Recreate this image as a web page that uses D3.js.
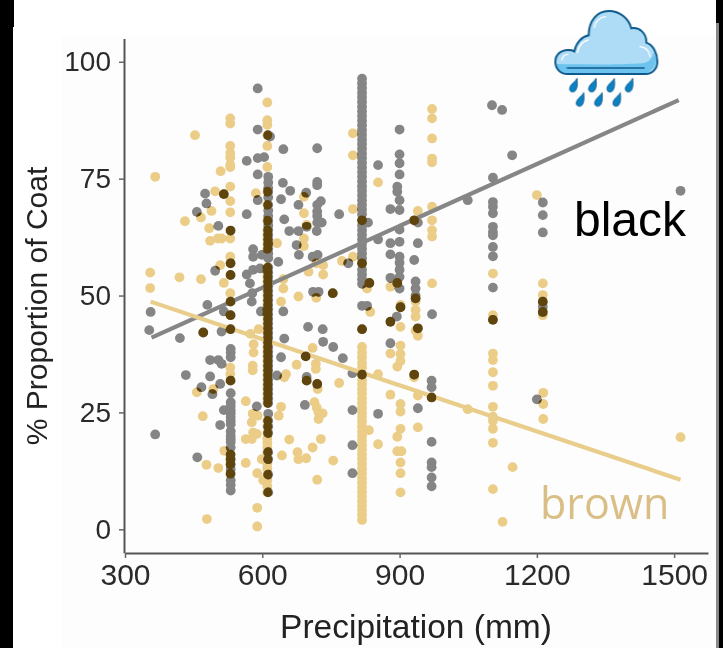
<!DOCTYPE html>
<html>
<head>
<meta charset="utf-8">
<script src="https://d3js.org/d3.v7.min.js"></script>
<style>
  html, body { margin: 0; padding: 0; background: #fff; }
  text { font-family: "Liberation Sans", Arial, sans-serif; }
</style>
</head>
<body>
<div id="chart"></div>
<script>
var xTicks = [300, 600, 900, 1200, 1500];
var yTicks = [0, 25, 50, 75, 100];

// regression lines, [precipitation, % coat]
var blackLine = [[358, 41], [1510, 91.8]];
var brownLine = [[356, 48.7], [1514, 10.6]];

// the three crowded columns, read top to bottom
var black530 = [63.9, 56.9, 54.4, 48.7, 45.8, 42.8, 38.6, 37.8, 36.8, 31.8, 29.1, 27.2, 26.4, 25.5, 24.8, 24, 23.2, 22.5, 21, 20, 19.3, 18.7, 17.5, 16, 15, 13.9, 12.9, 11.9, 10.5, 9.5, 8.3];
var brown530 = [87.9, 86.8, 82, 80.5, 79.5, 78, 77.5, 73.3, 70.2, 67.8, 63.9, 62.2, 58.3, 56.9, 54.4, 50.5, 48.7, 45.8, 42.8, 34.6, 33.2, 31.8, 16, 15, 13.9, 11.9];
var black612 = [84.3, 75.4, 74.2, 73, 72.2, 71, 69.4, 68.2, 67, 66, 65, 64, 63, 62, 61, 60, 59, 58, 56, 55, 54, 53, 52, 51, 50, 49, 48, 47, 46, 45, 44, 43, 42, 41, 40, 39, 38, 37, 36, 35, 34, 33, 32, 31, 30, 29, 28, 27, 24.7, 23.2, 22, 20.6, 16.5, 15, 11.7, 7.9];
var brown612 = [91.3, 87.5, 86.5, 84.3, 82, 77.5, 72.2, 69.4, 66, 64, 63, 62, 61, 60, 56, 55, 54, 53, 52, 51, 50, 49, 48, 47, 46, 45, 44, 43, 42, 41, 40, 39, 38, 37, 36, 35, 34, 33, 32, 31, 30, 29, 28, 27, 23.2, 22, 20.6, 19.5, 18.5, 17.5, 16.5, 15, 14, 13, 11.7, 10.5, 9.2, 7.9];
var black820 = [96.4, 95.4, 94.4, 93.4, 92.4, 91.4, 90.4, 89.4, 88.4, 87.4, 86.4, 85.4, 84.4, 83.4, 82.4, 81.4, 80.4, 79.4, 78.4, 77.4, 76.4, 75.4, 74.4, 73.4, 72.4, 71.4, 70.4, 69.4, 68.4, 67.4, 66.1, 65, 64, 63, 62, 61, 60, 59, 58, 56.9, 55.5, 54.5, 53.5, 52.5, 47.8, 42.8, 33.1];
var brown820 = [66.1, 56.9, 42.8, 39, 37.8, 36.8, 35.6, 34.6, 33.1, 32, 31, 30, 29, 28, 27, 26, 25, 24, 23, 22, 21, 20, 19, 18, 17, 16, 15, 14, 13, 12, 11, 10, 9, 8, 7, 6, 5, 4, 3, 2];

var blackPoints = [
  [590, 94.3], [590, 85.5], [617, 84], [646, 81.3], [720, 81.5], [566, 78.8], [590, 79.4], [604, 79.6],
  [590, 75.9], [645, 74.1], [661, 72.4], [720, 74.3], [720, 73.6], [696, 72], [475, 71.8], [516, 71.7],
  [478, 69.7], [590, 70.4], [641, 70.6], [728, 70.2], [679, 69.4], [720, 69.4], [720, 68], [720, 67],
  [720, 65.6], [457, 67.9], [566, 67.4], [768, 67.4], [648, 66.3], [504, 64.9], [659, 63.8], [679, 63.8],
  [697, 64.7], [719, 63.8], [730, 65.6], [675, 60.8], [680, 58.7], [580, 59.9], [580, 58.3], [599, 58.7],
  [635, 57.2], [710, 58.3], [721, 58.7], [788, 56.9], [497, 55.3], [566, 54.5], [580, 55.5], [595, 55.8],
  [573, 52.6], [578, 50.5], [577, 48.7], [711, 50.8], [723, 50.8], [754, 50.5], [480, 48], [356, 46.5],
  [516, 46.6], [597, 46.6], [646, 46.6], [353, 42.6], [420, 40.9], [471, 42.1], [511, 42.3], [700, 43.3],
  [732, 42.8], [648, 40.8], [733, 40.1], [755, 39], [486, 36.2], [504, 36.2], [511, 35.4], [641, 36.8],
  [695, 37], [776, 36.6], [797, 33.4], [433, 33], [486, 32.7], [508, 31.1], [467, 30.4], [491, 28.9],
  [632, 32.9], [697, 32.6], [697, 31.8], [720, 31.1], [588, 26.3], [693, 26.6], [797, 25.5], [516, 25.5],
  [508, 22.3], [366, 20.3], [458, 15.4], [797, 18], [797, 12],
  [853, 77.9], [900, 85.5], [900, 80.2], [900, 78.3], [900, 75.9], [895, 73.3], [895, 72.2], [900, 70.4],
  [900, 68.3], [880, 68.5], [900, 64.1], [831, 65.6], [853, 62], [880, 61.2], [900, 61.5], [940, 65.6],
  [932, 66.1], [940, 61.2], [880, 58.8], [900, 58.3], [900, 57], [900, 55.5], [900, 54], [932, 57.6],
  [880, 53.8], [895, 52.7], [900, 51.5], [834, 52.7], [935, 53], [935, 51.5], [935, 50], [935, 49.4],
  [829, 47.8], [971, 46], [902, 47.5], [894, 45.5], [880, 44.4], [1104, 75.2], [1102, 90.7], [1124, 89.7],
  [1146, 80], [1049, 70.4], [1104, 70], [1104, 69], [1104, 67.6], [1104, 64.7], [1104, 63.6], [1104, 62.9],
  [1104, 60.4], [1104, 58.4], [1104, 51.7], [1104, 44.8], [1213, 69.9], [1213, 67.2], [1213, 63.5],
  [1213, 48.7], [1213, 47.6], [1213, 46.5], [1514, 72.4], [880, 39.8], [940, 43], [932, 33.1], [970, 31.8],
  [970, 30.4], [970, 28.2], [853, 24.7], [940, 25.9], [970, 18.7], [970, 14.3], [970, 13.3], [970, 11.1],
  [970, 9.2], [1200, 27.8]
];

var brownPoints = [
  [366, 75.4], [453, 84.3], [509, 76.6], [497, 72.3], [516, 71.7], [586, 71.9], [489, 68.1], [466, 66.7],
  [431, 65.9], [691, 71.1], [691, 67.6], [697, 65.1], [484, 64.4], [486, 61.7], [503, 62.2], [511, 62.2],
  [632, 61.2], [691, 62.2], [691, 60.6], [798, 84.7], [798, 80], [798, 68.5], [508, 56.5], [355, 54.9],
  [355, 51.6], [419, 53.9], [466, 53.5], [516, 52.7], [646, 53.5], [646, 51.5], [701, 55.1], [733, 56.5],
  [733, 54.5], [718, 56.9], [774, 57.4], [798, 58.3], [679, 49.8], [718, 49.5], [641, 48.7], [754, 50.5],
  [471, 42.1], [574, 41.8], [592, 42.8], [581, 39.6], [581, 37.8], [579, 35], [579, 34], [710, 38.8],
  [695, 37], [675, 35.2], [652, 33.2], [648, 32.5], [717, 35.4], [717, 34.3], [768, 31.3], [457, 29.3],
  [493, 30], [564, 27.4], [721, 30], [720, 31.1], [714, 27.2], [719, 26], [723, 25], [732, 24.8], [723, 23.6],
  [641, 26.2], [636, 24.3], [470, 24.2], [579, 24.7], [590, 24.3], [577, 22.9], [564, 19.3], [577, 19.3],
  [588, 20.4], [580, 20.7], [659, 19.2], [728, 19.3], [710, 17.5], [643, 15.8], [677, 16.5], [679, 15],
  [696, 15.2], [755, 14.7], [478, 13.8], [504, 13.1], [564, 14.2], [517, 16.8], [599, 15], [589, 12],
  [602, 10.5], [720, 10.6], [589, 4.6], [479, 2.2], [589, 0.6], [697, 31.8],
  [971, 89.9], [971, 87.9], [971, 83.6], [971, 79.3], [971, 78.5], [853, 74.2], [971, 69], [940, 68.1],
  [971, 66.1], [971, 64], [971, 62.6], [1200, 71.5], [1104, 54.7], [880, 51.9], [829, 51.5], [971, 52.6],
  [1213, 52.6], [1213, 50.1], [1213, 48.7], [1213, 46.5], [1213, 45.8], [902, 48], [902, 47.5], [935, 49.4],
  [935, 48.7], [935, 46.9], [935, 45.5], [1104, 45.8], [1104, 44.8], [836, 46.5], [834, 52.7], [895, 52.7],
  [932, 66.1], [880, 44.4], [902, 43.3], [902, 39.3], [902, 37.5], [880, 37.6], [902, 36], [895, 34.8],
  [940, 43], [940, 41.4], [935, 42.5], [853, 33.2], [932, 33.1], [932, 32.5], [880, 28.8], [940, 28.6],
  [970, 28.2], [902, 26.8], [902, 25.2], [902, 21.5], [895, 19.8], [833, 21.2], [940, 21.8], [853, 18.2],
  [895, 16.7], [904, 16.7], [902, 14.3], [902, 12], [902, 7.9], [1049, 25.7], [1104, 37.6], [1104, 36.2],
  [1104, 33.6], [1104, 30.7], [1104, 26.2], [1104, 24.1], [1104, 23.2], [1104, 21.5], [1104, 18.5],
  [1104, 8.6], [1125, 1.6], [1147, 13.3], [1214, 29.2], [1214, 26.8], [1214, 23.6], [1514, 19.7]
];

function column(x, values) {
  return values.map(function(v) { return [x, v]; });
}
var blackAll = blackPoints.concat(column(531, black530), column(613, black612), column(818, black820));
var brownAll = brownPoints.concat(column(530, brown530), column(611, brown612), column(818, brown820));

var width = 723, height = 648;

var svg = d3.select("#chart")
  .append("svg")
    .attr("width", width)
    .attr("height", height)
    .style("display", "block");

var defs = svg.append("defs");
defs.append("filter")
    .attr("id", "soft")
    .attr("x", "-5%").attr("y", "-5%").attr("width", "110%").attr("height", "110%")
  .append("feGaussianBlur")
    .attr("stdDeviation", 0.7);

var x = d3.scaleLinear().domain([300, 1574]).range([125, 708]);
var y = d3.scaleLinear().domain([-5, 105]).range([552.7, 38.4]);

// page background and the dark slide edges
svg.append("rect").attr("x", 61).attr("y", 36).attr("width", 655).attr("height", 612).attr("fill", "#fdfdfd");
svg.append("rect").attr("x", 0).attr("y", 0).attr("width", 13).attr("height", 648).attr("fill", "#000");
svg.append("rect").attr("x", 0).attr("y", 0).attr("width", 14).attr("height", 27).attr("fill", "#000");
svg.append("rect").attr("x", 716).attr("y", 0).attr("width", 7).attr("height", 648).attr("fill", "#000");
svg.append("rect").attr("x", 716).attr("y", 23).attr("width", 3).attr("height", 625).attr("fill", "#888");

var plot = svg.append("g").attr("filter", "url(#soft)");

function dots(parent, data, fill) {
  return parent
    .selectAll("circle")
    .data(data)
    .join("circle")
      .attr("cx", function(d) { return x(d[0]); })
      .attr("cy", function(d) { return y(d[1]); })
      .attr("r", 4.9)
      .attr("fill", fill);
}

dots(plot.append("g"), brownAll, "#ebcd88");
dots(plot.append("g"), blackAll, "#858585");

var line = d3.line()
  .x(function(d) { return x(d[0]); })
  .y(function(d) { return y(d[1]); });

plot.append("path").datum(blackLine)
    .attr("fill", "none").attr("stroke", "#868686").attr("stroke-width", 4.2).attr("d", line);
plot.append("path").datum(brownLine)
    .attr("fill", "none").attr("stroke", "#e9cd8b").attr("stroke-width", 4.2).attr("d", line);

// where brown and black dots overlap the original goes dark brown
var clip = defs.append("clipPath").attr("id", "overBlack");
dots(clip, blackAll, "#000");
dots(plot.append("g").attr("clip-path", "url(#overBlack)"), brownAll, "#5e4508");

// axes
var xAxis = plot.append("g")
    .attr("transform", "translate(0,553)")
    .call(d3.axisBottom(x).tickValues(xTicks).tickFormat(d3.format("d")).tickSize(5).tickSizeOuter(0).tickPadding(6));
var yAxis = plot.append("g")
    .attr("transform", "translate(124,0)")
    .call(d3.axisLeft(y).tickValues(yTicks).tickFormat(d3.format("d")).tickSize(5).tickSizeOuter(0).tickPadding(8));

[xAxis, yAxis].forEach(function(a) {
  a.select(".domain").attr("stroke", "#555").attr("stroke-width", 2);
  a.selectAll(".tick line").attr("stroke", "#666").attr("stroke-width", 1.5);
  a.selectAll(".tick text")
    .attr("fill", "#2b2b2b")
    .style("font-family", "'Liberation Sans', Arial, sans-serif");
});
xAxis.selectAll(".tick text").style("font-size", "30px");
yAxis.selectAll(".tick text").style("font-size", "28px");

plot.append("text")
    .attr("x", 416).attr("y", 638)
    .attr("text-anchor", "middle")
    .attr("fill", "#222")
    .style("font-size", "33.5px")
    .text("Precipitation (mm)");

plot.append("text")
    .attr("transform", "translate(47,306) rotate(-90)")
    .attr("text-anchor", "middle")
    .attr("fill", "#222")
    .style("font-size", "30px")
    .text("% Proportion of Coat");

svg.append("text")
    .attr("x", 574).attr("y", 236)
    .attr("fill", "#000")
    .style("font-size", "48px")
    .text("black");

svg.append("text")
    .attr("x", 540).attr("y", 519)
    .attr("fill", "#d9bf85")
    .style("font-family", "'Open Sans', sans-serif")
    .style("font-size", "43px")
    .text("brown");

// rain cloud icon, drawn in a 3x box
var icon = svg.append("g").attr("transform", "translate(540,0) scale(0.3333)");
var cloud = "M82,222 C60,222 46,205 46,185 C46,165 62,150 84,150 C92,150 98,151 103,154 C108,128 125,110 146,106 C146,62 172,33 206,33 C240,33 266,55 274,85 C298,80 320,100 319,128 C340,135 352,160 352,185 C352,205 338,222 316,222 Z";
icon.append("path").attr("d", cloud).attr("fill", "#aedcf6");
icon.append("path")
    .attr("d", "M50,192 C140,194 280,194 316,188 C330,184 338,170 340,158 C352,175 352,205 316,222 L82,222 C62,222 50,208 50,192 Z")
    .attr("fill", "#6cc3ee");
icon.append("path").attr("d", cloud)
    .attr("fill", "none").attr("stroke", "#0f5a8c").attr("stroke-width", 6);
icon.append("path").attr("d", "M82,204 L312,204")
    .attr("fill", "none").attr("stroke", "#0f5a8c").attr("stroke-width", 5).attr("stroke-linecap", "round");
["M66,180 C66,170 74,163 84,163", "M112,158 C116,138 128,124 144,120", "M163,82 C165,66 178,52 196,50", "M300,140 C316,142 328,152 330,170"].forEach(function(d) {
  icon.append("path").attr("d", d)
      .attr("fill", "none").attr("stroke", "#fff").attr("stroke-width", 4).attr("stroke-linecap", "round");
});

var drop = "M16,-20 C12,-10 -6,-2 -6,12 C-6,22 8,24 13,14 C19,2 16,-10 16,-20 Z";
var dropRows = [[100, 255], [157, 255], [212, 255], [267, 255], [120, 298], [175, 298], [230, 298]];
icon.selectAll("path.drop")
  .data(dropRows)
  .join("path")
    .attr("class", "drop")
    .attr("transform", function(d) { return "translate(" + (d[0] - 5) + "," + d[1] + ")"; })
    .attr("d", drop)
    .attr("fill", "#0a82c4")
    .attr("stroke", "#0f5a8c")
    .attr("stroke-width", 3);
</script>
</body>
</html>
